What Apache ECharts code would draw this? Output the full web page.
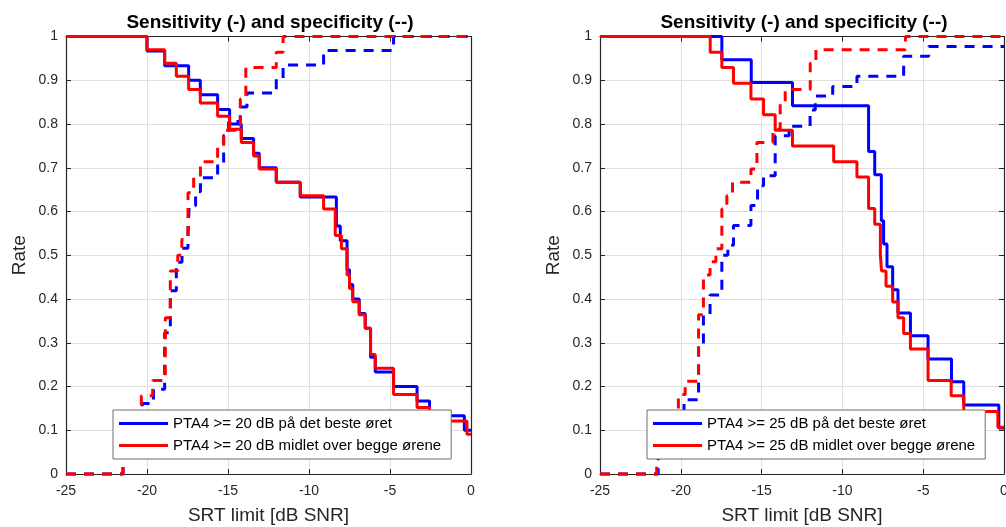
<!DOCTYPE html>
<html>
<head>
<meta charset="utf-8">
<script src="https://cdn.jsdelivr.net/npm/echarts@6/dist/echarts.min.js"></script>
<style>
html, body { margin: 0; padding: 0; background: #fff; }
#chart { width: 1006px; height: 527px; }
</style>
</head>
<body>
<div id="chart"></div>
<script>
// trappekurver: [SRT-grense, verdi], verdien gjelder fra x til neste punkt
var sens20Beste = [[-25,1],[-20,0.967],[-18.91,0.933],[-17.43,0.9],[-16.71,0.867],[-15.64,0.833],[-14.9,0.8],[-14.18,0.767],[-13.42,0.733],[-13.07,0.7],[-12.02,0.667],[-10.54,0.633],[-8.31,0.567],[-8.07,0.533],[-7.65,0.467],[-7.5,0.433],[-7.3,0.4],[-6.9,0.367],[-6.53,0.333],[-6.2,0.267],[-5.91,0.233],[-4.78,0.2],[-3.33,0.167],[-2.56,0.133],[-0.41,0.1],[0,0.1]];
var sens20Snitt = [[-25,1],[-20,0.97],[-18.91,0.939],[-18.19,0.909],[-17.43,0.879],[-16.71,0.848],[-15.64,0.818],[-14.9,0.788],[-14.18,0.758],[-13.42,0.727],[-13.07,0.697],[-12.02,0.667],[-10.54,0.636],[-9.1,0.606],[-8.38,0.545],[-8.0,0.515],[-7.65,0.455],[-7.5,0.424],[-7.3,0.394],[-6.9,0.364],[-6.53,0.333],[-6.2,0.273],[-5.91,0.242],[-4.78,0.182],[-3.33,0.152],[-2.56,0.121],[-0.25,0.091],[0,0.091]];
var spes20Beste = [[-25,0],[-21.48,0.065],[-20.9,0.129],[-20.3,0.161],[-19.6,0.194],[-18.91,0.323],[-18.56,0.419],[-18.19,0.484],[-17.84,0.516],[-17.47,0.548],[-17.4,0.613],[-17.0,0.645],[-16.7,0.677],[-15.64,0.71],[-15.27,0.774],[-14.96,0.806],[-14.24,0.839],[-13.83,0.871],[-12.02,0.903],[-11.6,0.935],[-9.1,0.968],[-4.78,1],[0,1]];
var spes20Snitt = [[-25,0],[-21.48,0.071],[-20.9,0.143],[-20.35,0.179],[-19.65,0.214],[-18.87,0.357],[-18.56,0.464],[-18.1,0.5],[-17.85,0.536],[-17.47,0.643],[-17.12,0.679],[-16.7,0.714],[-15.64,0.75],[-15.27,0.786],[-14.24,0.857],[-13.9,0.929],[-12.02,0.964],[-11.6,1],[0,1]];

var sens25Beste = [[-25,1],[-17.46,0.947],[-15.64,0.895],[-13.09,0.842],[-8.38,0.737],[-8.0,0.684],[-7.59,0.579],[-7.45,0.526],[-7.24,0.474],[-6.89,0.421],[-6.56,0.368],[-5.79,0.316],[-4.7,0.263],[-3.25,0.211],[-2.49,0.158],[-0.32,0.105],[0,0.105]];
var sens25Snitt = [[-25,1],[-18.18,0.964],[-17.46,0.929],[-16.74,0.893],[-15.66,0.857],[-14.88,0.821],[-14.16,0.786],[-13.09,0.75],[-10.54,0.714],[-9.1,0.679],[-8.38,0.607],[-8.0,0.571],[-7.65,0.5],[-7.58,0.464],[-7.3,0.429],[-6.89,0.393],[-6.56,0.357],[-6.21,0.321],[-5.79,0.286],[-4.7,0.214],[-3.27,0.179],[-2.49,0.143],[-0.38,0.107],[0,0.107]];
var spes25Beste = [[-25,0],[-21.4,0.045],[-20.6,0.114],[-19.8,0.17],[-18.9,0.295],[-18.6,0.364],[-18.19,0.409],[-17.46,0.5],[-17.09,0.523],[-16.74,0.568],[-15.66,0.614],[-15.25,0.659],[-14.88,0.682],[-14.16,0.773],[-13.3,0.795],[-12.0,0.832],[-11.68,0.864],[-10.6,0.886],[-9.1,0.909],[-6.21,0.955],[-4.66,0.977],[0,0.977]];
var spes25Snitt = [[-25,0],[-21.49,0.061],[-20.8,0.121],[-20.15,0.182],[-19.73,0.212],[-18.9,0.364],[-18.6,0.455],[-18.19,0.485],[-17.83,0.515],[-17.46,0.606],[-17.15,0.636],[-16.8,0.667],[-15.66,0.697],[-15.29,0.758],[-14.3,0.788],[-13.85,0.848],[-13.54,0.879],[-11.99,0.939],[-11.64,0.97],[-6.1,1],[0,1]];

var legend20 = ['PTA4 >= 20 dB på det beste øret', 'PTA4 >= 20 dB midlet over begge ørene'];
var legend25 = ['PTA4 >= 25 dB på det beste øret', 'PTA4 >= 25 dB midlet over begge ørene'];
var yTickLabels = ['0', '0.1', '0.2', '0.3', '0.4', '0.5', '0.6', '0.7', '0.8', '0.9', '1'];
var tittel = 'Sensitivity (-) and specificity (--)';

var font = 'Liberation Sans, Arial, sans-serif';
var axisCol = '#262626';

function xAkse(grid, bunn) {
    return {
        type: 'value', gridIndex: grid, position: bunn ? 'bottom' : 'top',
        min: -25, max: 0, interval: 5,
        name: bunn ? 'SRT limit [dB SNR]' : '', nameLocation: 'middle', nameGap: 32,
        nameTextStyle: { fontFamily: font, fontSize: 19, color: axisCol },
        axisLine: { show: true, onZero: false, lineStyle: { color: axisCol, width: 1.2 } },
        axisTick: { show: true, inside: true, length: 5, lineStyle: { color: axisCol } },
        axisLabel: { show: bunn, margin: 10, fontFamily: font, fontSize: 14, color: axisCol },
        splitLine: { show: bunn, lineStyle: { color: '#dfdfdf', width: 1 } }
    };
}
function yAkse(grid, venstre) {
    return {
        type: 'value', gridIndex: grid, position: venstre ? 'left' : 'right',
        min: 0, max: 1, interval: 0.1,
        name: venstre ? 'Rate' : '', nameLocation: 'middle', nameGap: 37,
        nameTextStyle: { fontFamily: font, fontSize: 19, color: axisCol },
        axisLine: { show: true, onZero: false, lineStyle: { color: axisCol, width: 1.2 } },
        axisTick: { show: true, inside: true, length: 5, lineStyle: { color: axisCol } },
        axisLabel: {
            show: venstre, margin: 8, fontFamily: font, fontSize: 14, color: axisCol,
            formatter: function (v) { return yTickLabels[Math.round(v * 10)]; }
        },
        splitLine: { show: venstre, lineStyle: { color: '#dfdfdf', width: 1 } }
    };
}
function linje(navn, data, farge, stiplet, akse) {
    return {
        name: navn, type: 'line', data: data, step: 'end',
        xAxisIndex: akse, yAxisIndex: akse,
        symbol: 'none', clip: false, animation: false,
        lineStyle: { color: farge, width: 3, type: stiplet ? [10, 8] : 'solid', cap: 'butt' },
        itemStyle: { color: farge }
    };
}
function forklaring(navn, venstre) {
    return {
        data: navn, left: venstre, top: 410, orient: 'vertical',
        icon: 'path://M0,0 L49,0 L49,3 L0,3 Z',
        itemWidth: 49, itemHeight: 14, itemGap: 7, padding: [6, 10, 6, 6],
        backgroundColor: '#fff', borderColor: '#6f6f6f', borderWidth: 1, borderRadius: 0,
        selectedMode: false,
        textStyle: { fontFamily: font, fontSize: 15, color: '#000' }
    };
}

var myChart = echarts.init(document.getElementById('chart'));
var option = {
    backgroundColor: '#fff',
    title: [
        { text: tittel, left: 265, top: 8, textAlign: 'center', textStyle: { fontFamily: font, fontSize: 19, fontWeight: 'bold', color: '#000' } },
        { text: tittel, left: 799, top: 8, textAlign: 'center', textStyle: { fontFamily: font, fontSize: 19, fontWeight: 'bold', color: '#000' } }
    ],
    grid: [
        { left: 66, right: 535, top: 36.5, bottom: 53, outerBoundsMode: 'none' },
        { left: 600, right: 2, top: 36.5, bottom: 53, outerBoundsMode: 'none' }
    ],
    xAxis: [xAkse(0, true), xAkse(0, false), xAkse(1, true), xAkse(1, false)],
    yAxis: [yAkse(0, true), yAkse(0, false), yAkse(1, true), yAkse(1, false)],
    legend: [forklaring(legend20, 113), forklaring(legend25, 647)],
    series: [
        linje(legend20[0], sens20Beste, '#0000ff', false, 0),
        linje('spes20 beste', spes20Beste, '#0000ff', true, 0),
        linje(legend20[1], sens20Snitt, '#ff0000', false, 0),
        linje('spes20 snitt', spes20Snitt, '#ff0000', true, 0),
        linje(legend25[0], sens25Beste, '#0000ff', false, 2),
        linje('spes25 beste', spes25Beste, '#0000ff', true, 2),
        linje(legend25[1], sens25Snitt, '#ff0000', false, 2),
        linje('spes25 snitt', spes25Snitt, '#ff0000', true, 2)
    ]
};
myChart.setOption(option);
</script>
</body>
</html>
